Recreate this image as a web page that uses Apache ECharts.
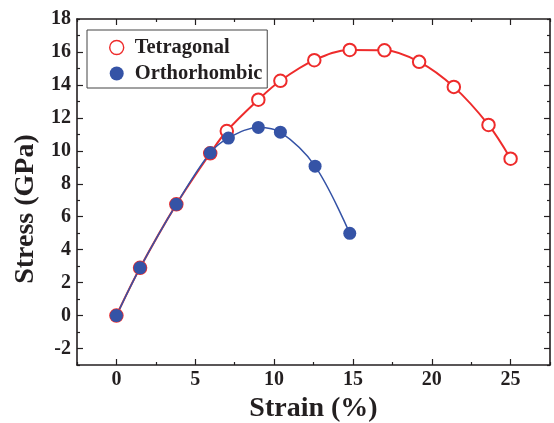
<!DOCTYPE html>
<html>
<head>
<meta charset="utf-8">
<script src="https://cdn.jsdelivr.net/npm/echarts@6/dist/echarts.min.js"></script>
<style>
    html, body { margin: 0; padding: 0; background: #fff; }
    #chart { width: 554px; height: 423px; }
</style>
</head>
<body>
<div id="chart"></div>
<script>
// values
var tetraStrain = [0, 1.5, 3.8, 5.95, 7.0, 9.0, 10.4, 12.55, 14.8, 17.0, 19.2, 21.4, 23.6, 25.0];
var tetraStress = [0, 2.9, 6.75, 9.85, 11.2, 13.1, 14.25, 15.5, 16.12, 16.1, 15.4, 13.88, 11.57, 9.52];
var orthoStrain = [0, 1.5, 3.8, 5.95, 7.1, 9.0, 10.4, 12.6, 14.8];
var orthoStress = [0, 2.9, 6.75, 9.88, 10.77, 11.42, 11.13, 9.07, 4.99];
var xTickLabels = [0, 5, 10, 15, 20, 25];
var yTickLabels = [-2, 0, 2, 4, 6, 8, 10, 12, 14, 16, 18];

var font = "'Liberation Serif', 'Times New Roman', serif";
var ink = '#231f20';
var red = '#ee2b2b';
var blue = '#3553a6';

function pairs(xs, ys) {
    return xs.map(function (x, i) { return [x, ys[i]]; });
}

function xAxis(pos, labels) {
    return {
        type: 'value', position: pos, min: -2.5, max: 27.5, interval: 5,
        axisLine: { show: true, onZero: false, lineStyle: { color: ink, width: 1.6 } },
        axisTick: { show: true, inside: true, length: 3, lineStyle: { color: ink, width: 1.2 } },
        minorTick: { show: true, splitNumber: 2, length: 6, lineStyle: { color: ink, width: 1.2 } },
        splitLine: { show: false },
        minorSplitLine: { show: false },
        axisLabel: {
            show: labels, customValues: xTickLabels, margin: 5,
            color: ink, fontFamily: font, fontWeight: 'bold', fontSize: 20
        },
        name: labels ? 'Strain (%)' : '', nameLocation: 'middle', nameGap: 20,
        nameTextStyle: { color: ink, fontFamily: font, fontWeight: 'bold', fontSize: 28 }
    };
}

function yAxis(pos, labels) {
    return {
        type: 'value', position: pos, min: -3, max: 18, interval: 2,
        axisLine: { show: true, onZero: false, lineStyle: { color: ink, width: 1.6 } },
        axisTick: { show: true, inside: true, length: 3, lineStyle: { color: ink, width: 1.2 } },
        minorTick: { show: true, splitNumber: 2, length: 6, lineStyle: { color: ink, width: 1.2 } },
        splitLine: { show: false },
        minorSplitLine: { show: false },
        axisLabel: {
            show: labels, customValues: yTickLabels, margin: 6,
            color: ink, fontFamily: font, fontWeight: 'bold', fontSize: 20
        },
        name: labels ? 'Stress (GPa)' : '', nameLocation: 'middle', nameGap: 34,
        nameTextStyle: { color: ink, fontFamily: font, fontWeight: 'bold', fontSize: 28, padding: [0, 34, 0, 0] }
    };
}

var myChart = echarts.init(document.getElementById('chart'), null, { renderer: 'canvas' });
var option = {
    animation: false,
    backgroundColor: '#fff',
    grid: { left: 77, right: 4, top: 19, bottom: 58, outerBoundsMode: 'none' },
    legend: {
        orient: 'vertical', left: 87, top: 30,
        padding: [7, 5, 4, 22], itemGap: 5,
        itemWidth: 14, itemHeight: 14,
        borderColor: '#444', borderWidth: 1, backgroundColor: '#fff',
        textStyle: { color: ink, fontFamily: font, fontWeight: 'bold', fontSize: 20.5, lineHeight: 21, padding: [0, 0, 0, 6] },
        data: [
            { name: 'Tetragonal', icon: 'circle', itemStyle: { color: '#fff', borderColor: red, borderWidth: 1.4 } },
            { name: 'Orthorhombic', icon: 'circle', itemStyle: { color: blue, borderWidth: 0 } }
        ]
    },
    xAxis: [xAxis('bottom', true), xAxis('top', false)],
    yAxis: [yAxis('left', true), yAxis('right', false)],
    series: [
        {
            name: 'Tetragonal', type: 'line', smooth: 0.35,
            symbol: 'emptyCircle', symbolSize: 12.5,
            lineStyle: { color: red, width: 2 },
            itemStyle: { color: red, borderColor: red, borderWidth: 1.4 },
            data: pairs(tetraStrain, tetraStress)
        },
        {
            name: 'Orthorhombic', type: 'line', smooth: 0.35,
            symbol: 'circle', symbolSize: 13,
            lineStyle: { color: blue, width: 1.5 },
            itemStyle: { color: blue, borderWidth: 0 },
            data: pairs(orthoStrain, orthoStress)
        }
    ]
};
myChart.setOption(option);
window.addEventListener('resize', function () {
    myChart.resize();
});
</script>
</body>
</html>
